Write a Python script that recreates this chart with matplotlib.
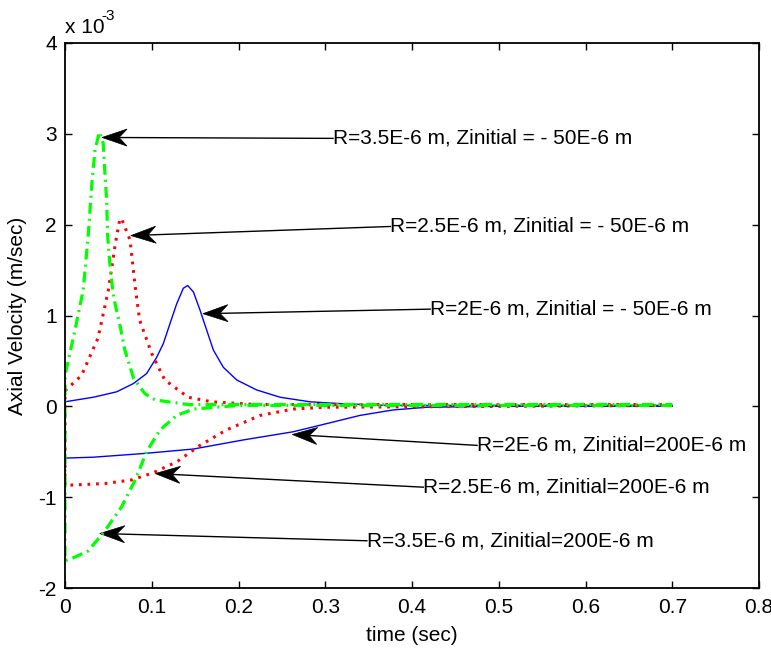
import matplotlib
matplotlib.use("Agg")
import matplotlib.pyplot as plt
import numpy as np
from matplotlib.patches import Polygon

plt.rcParams['font.family'] = ['Liberation Sans', 'DejaVu Sans']

# ---- data (values in units of 1e-3 m/sec) ----
# R = 2E-6 m
t_b_up = [0, 0.0326, 0.0596, 0.0787, 0.094, 0.1057, 0.1133, 0.121, 0.1288, 0.1364, 0.1414, 0.148, 0.1556,
          0.1633, 0.171, 0.1825, 0.198, 0.221, 0.248, 0.2824, 0.317, 0.37, 0.7]
v_b_up = [0.05, 0.10, 0.16, 0.25, 0.36, 0.54, 0.69, 0.91, 1.13, 1.30, 1.33, 1.26, 1.06,
          0.84, 0.62, 0.43, 0.29, 0.18, 0.10, 0.05, 0.03, 0.01, 0.01]
t_b_lo = [0, 0.0326, 0.09, 0.148, 0.2055, 0.263, 0.3017, 0.34, 0.378, 0.417, 0.5, 0.7]
v_b_lo = [-0.57, -0.56, -0.52, -0.47, -0.37, -0.28, -0.19, -0.10, -0.04, -0.01, 0.0, 0.0]
# R = 2.5E-6 m
t_r_up = [0, 0.019, 0.038, 0.05, 0.058, 0.063, 0.065, 0.075, 0.081, 0.086, 0.1, 0.115, 0.142, 0.169, 0.22, 0.7]
v_r_up = [0.17, 0.34, 0.75, 1.28, 1.79, 2.05, 2.07, 1.83, 1.31, 0.95, 0.58, 0.29, 0.10, 0.05, 0.02, 0.02]
t_r_lo = [0, 0.046, 0.077, 0.102, 0.129, 0.1556, 0.186, 0.225, 0.263, 0.3, 0.7]
v_r_lo = [-0.87, -0.85, -0.81, -0.73, -0.61, -0.43, -0.26, -0.10, -0.03, -0.01, 0.01]
# R = 3.5E-6 m
t_g_up = [0, 0.0115, 0.021, 0.027, 0.031, 0.0346, 0.0396, 0.044, 0.046, 0.048, 0.049, 0.052, 0.056, 0.063,
          0.069, 0.079, 0.092, 0.104, 0.142, 0.7]
v_g_up = [0.34, 0.84, 1.28, 1.91, 2.46, 2.82, 3.02, 2.90, 2.57, 2.27, 1.90, 1.53, 1.20, 0.91,
          0.62, 0.31, 0.14, 0.07, 0.02, 0.02]
t_g_lo = [0, 0.0115, 0.027, 0.046, 0.065, 0.081, 0.094, 0.1095, 0.1288, 0.148, 0.2, 0.7]
v_g_lo = [-1.70, -1.66, -1.59, -1.37, -1.11, -0.81, -0.50, -0.26, -0.10, -0.03, 0.01, 0.01]

labels = ["R=3.5E-6 m, Zinitial = - 50E-6 m",
          "R=2.5E-6 m, Zinitial = - 50E-6 m",
          "R=2E-6 m, Zinitial = - 50E-6 m",
          "R=2E-6 m, Zinitial=200E-6 m",
          "R=2.5E-6 m, Zinitial=200E-6 m",
          "R=3.5E-6 m, Zinitial=200E-6 m"]
label_pos = [(0.309, 2.95), (0.375, 1.98), (0.421, 1.07),
             (0.475, -0.43), (0.413, -0.89), (0.348, -1.48)]
arrow_tip = [(0.0427, 2.96), (0.076, 1.88), (0.159, 1.02),
             (0.262, -0.31), (0.104, -0.74), (0.040, -1.40)]

xticks = [0, 0.1, 0.2, 0.3, 0.4, 0.5, 0.6, 0.7, 0.8]
xticklabels = ["0", "0.1", "0.2", "0.3", "0.4", "0.5", "0.6", "0.7", "0.8"]
yticks = [-2, -1, 0, 1, 2, 3, 4]
yticklabels = ["-2", "-1", "0", "1", "2", "3", "4"]

FS = 15

fig = plt.figure(figsize=(7.71, 6.48), dpi=100)
ax = fig.add_axes([65/771, 1 - 588/648, (759-65)/771, (588-43)/648])

def joined(tl, vl, tu, vu):
    return list(tl[::-1]) + list(tu), list(vl[::-1]) + list(vu)

tb, vb = joined(t_b_lo, v_b_lo, t_b_up, v_b_up)
tr, vr = joined(t_r_lo, v_r_lo, t_r_up, v_r_up)
tg, vg = joined(t_g_lo, v_g_lo, t_g_up, v_g_up)

ax.plot(tb, vb, color='#0000FF', lw=1.0)
ax.plot(tr, vr, color='#FF0000', lw=2.2, linestyle=(0, (0.9, 1.9)), dash_capstyle='butt')
ax.plot(tg, vg, color='#00FF00', lw=2.3, linestyle=(0, (3.4, 1.6, 0.6, 1.6)), dash_capstyle='butt')

ax.set_xlim(0, 0.8)
ax.set_ylim(-2, 4)
ax.set_xticks(xticks)
ax.set_xticklabels(xticklabels)
ax.set_yticks(yticks)
ax.set_yticklabels(yticklabels)
ax.tick_params(direction='in', top=True, right=True, length=5, width=1,
               labelsize=FS)
ax.tick_params(axis='x', pad=7)
ax.tick_params(axis='y', pad=6)
for s in ax.spines.values():
    s.set_linewidth(1.3)

ax.set_xlabel("time (sec)", fontsize=FS, labelpad=7)
ax.set_ylabel("Axial Velocity (m/sec)", fontsize=FS, labelpad=8)

fig.text(65/771, 1 - 33/648, "x 10", fontsize=FS, ha='left', va='baseline')
fig.text(101/771, 1 - 20/648, "-3", fontsize=11, ha='left', va='baseline')

# arrows with notched heads drawn in display space
fig.canvas.draw()
trans = ax.transData
for lab, (lx, ly), (tx, ty) in zip(labels, label_pos, arrow_tip):
    ax.text(lx, ly, lab, fontsize=FS, ha='left', va='center')
    p_tip = trans.transform((tx, ty))
    p_tail = trans.transform((lx, ly))
    d = p_tail - p_tip
    L = np.hypot(*d)
    u = d / L
    n = np.array([-u[1], u[0]])
    hl, hw, notch = 25.0, 8.5, 17.0
    back = p_tip + u * hl
    verts = [p_tip, back + n * hw, p_tip + u * notch, back - n * hw]
    ax.plot([p_tip[0] + u[0]*notch, p_tail[0]], [p_tip[1] + u[1]*notch, p_tail[1]],
            color='black', lw=1.0, transform=None, clip_on=False)
    ax.add_patch(Polygon(verts, closed=True, facecolor='black', edgecolor='black',
                         lw=0.5, transform=None, clip_on=False))

fig.savefig("out.png", dpi=100)
